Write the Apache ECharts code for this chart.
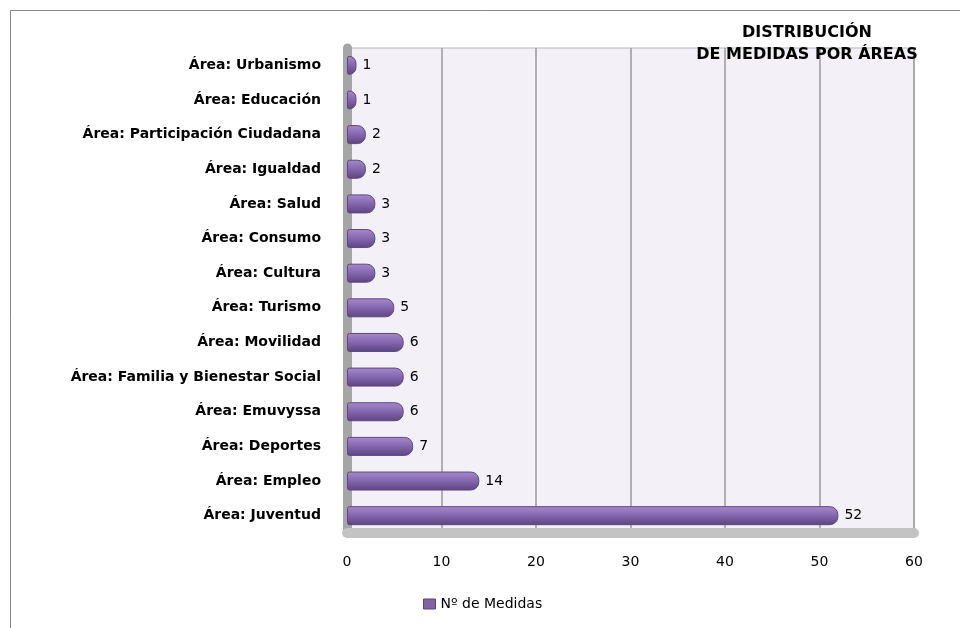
<!DOCTYPE html>
<html>
<head>
<meta charset="utf-8">
<script src="https://cdn.jsdelivr.net/npm/echarts@6/dist/echarts.min.js"></script>
<style>
  html, body { margin: 0; padding: 0; background: #fff; }
  #chart { width: 960px; height: 628px; }
</style>
</head>
<body>
<div id="chart"></div>
<script>
  // categories, top to bottom as in the picture
  var areas = ['Área: Urbanismo', 'Área: Educación', 'Área: Participación Ciudadana', 'Área: Igualdad',
    'Área: Salud', 'Área: Consumo', 'Área: Cultura', 'Área: Turismo', 'Área: Movilidad',
    'Área: Familia y Bienestar Social', 'Área: Emuvyssa', 'Área: Deportes', 'Área: Empleo', 'Área: Juventud'];
  var medidas = [1, 1, 2, 2, 3, 3, 3, 5, 6, 6, 6, 7, 14, 52];
  var seriesName = 'Nº de Medidas';
  var titleText = 'DISTRIBUCIÓN\nDE MEDIDAS POR ÁREAS';

  var font = '"DejaVu Sans", sans-serif';
  var chart = echarts.init(document.getElementById('chart'));

  var barColor = new echarts.graphic.LinearGradient(0, 0, 0, 1, [
    { offset: 0, color: '#a48cc9' },
    { offset: 0.4, color: '#8b6db5' },
    { offset: 1, color: '#5b4480' }
  ]);

  chart.setOption({
    animation: false,
    backgroundColor: '#fff',
    graphic: [{
      type: 'rect',
      shape: { x: 10.5, y: 10.5, width: 1000, height: 1000 },
      style: { fill: 'none', stroke: '#868686', lineWidth: 1 },
      z: -10
    }],
    title: {
      text: titleText,
      left: 802,
      top: 17,
      textAlign: 'center',
      textStyle: {
        fontFamily: font,
        fontSize: 16,
        fontWeight: 'bold',
        color: '#000',
        lineHeight: 22
      }
    },
    legend: {
      left: 418,
      bottom: 12,
      icon: 'rect',
      itemWidth: 12,
      itemHeight: 10,
      itemGap: 6,
      textStyle: { fontFamily: font, fontSize: 14, color: '#000' },
      data: [{ name: seriesName, itemStyle: { color: '#8064a2', borderColor: '#5b4480', borderWidth: 1 } }]
    },
    grid: {
      left: 347,
      right: 46,
      top: 48,
      bottom: 95,
      show: true,
      backgroundColor: '#f3f0f7',
      borderColor: '#b5b5b5',
      borderWidth: 1
    },
    xAxis: {
      type: 'value',
      min: 0,
      max: 60,
      interval: 10,
      axisLine: { show: true, lineStyle: { color: '#c3c3c3', width: 10 } },
      axisTick: { show: false },
      axisLabel: { margin: 22, fontFamily: font, fontSize: 14, color: '#000' },
      splitLine: { show: true, lineStyle: { color: '#9a9a9a', width: 1.5 } }
    },
    yAxis: {
      type: 'category',
      inverse: true,
      data: areas,
      axisLine: { show: true, lineStyle: { color: '#a5a5a5', width: 9 } },
      axisTick: { show: false },
      axisLabel: { margin: 26, fontFamily: font, fontSize: 14, fontWeight: 'bold', color: '#000' }
    },
    series: [{
      name: seriesName,
      type: 'bar',
      data: medidas,
      barWidth: 19,
      itemStyle: {
        color: barColor,
        borderColor: '#5e4783',
        borderWidth: 1,
        borderRadius: [2, 8, 8, 2]
      },
      label: {
        show: true,
        position: 'right',
        distance: 6,
        fontFamily: font,
        fontSize: 14,
        color: '#000'
      }
    }]
  });
</script>
</body>
</html>
